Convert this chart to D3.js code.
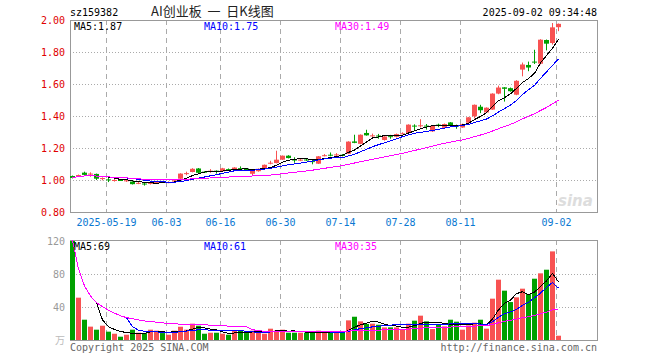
<!DOCTYPE html>
<html>
<head>
<meta charset="utf-8">
<script src="https://cdn.jsdelivr.net/npm/d3@7"></script>
<style>
  body { margin: 0; background: #fff; }
  text { font-family: "DejaVu Sans Mono", monospace; font-size: 10px; }
</style>
</head>
<body>
<div id="kline"></div>
<script>
// daily K data, 2025-05-09 .. 2025-09-02
const opens = [1.025,1.027,1.046,1.034,1.038,1.006,1.004,0.997,1.000,0.994,
  0.990,0.978,0.978,0.977,0.983,0.988,0.984,0.990,1.008,1.040,
  1.050,1.072,1.052,1.055,1.058,1.054,1.068,1.062,1.074,1.072,
  1.039,1.055,1.075,1.104,1.106,1.127,1.152,1.128,1.124,1.128,
  1.118,1.102,1.152,1.158,1.156,1.158,1.164,1.241,1.226,1.294,
  1.276,1.278,1.250,1.274,1.270,1.288,1.294,1.340,1.338,1.340,
  1.304,1.346,1.326,1.360,1.340,1.328,1.358,1.398,1.458,1.422,
  1.440,1.540,1.579,1.574,1.533,1.690,1.719,1.740,1.727,1.875,
  1.856,1.955];
const closes = [1.013,1.031,1.032,1.040,1.008,1.012,1.000,1.000,0.997,0.998,
  0.974,0.982,0.975,0.982,0.988,0.985,0.987,0.998,1.040,1.043,
  1.070,1.045,1.049,1.058,1.055,1.073,1.064,1.078,1.072,1.060,
  1.059,1.070,1.095,1.108,1.127,1.152,1.137,1.125,1.127,1.124,
  1.116,1.148,1.155,1.156,1.160,1.150,1.240,1.232,1.283,1.279,
  1.279,1.275,1.272,1.271,1.287,1.292,1.346,1.336,1.342,1.337,
  1.339,1.342,1.350,1.342,1.336,1.350,1.392,1.470,1.436,1.452,
  1.540,1.578,1.570,1.555,1.620,1.722,1.703,1.736,1.877,1.852,
  1.954,1.976];
const highs = [1.028,1.034,1.052,1.048,1.040,1.016,1.012,1.007,1.002,1.000,
  0.992,0.990,0.985,0.988,0.993,0.990,0.992,1.003,1.042,1.052,
  1.074,1.075,1.055,1.068,1.060,1.076,1.072,1.080,1.085,1.074,
  1.062,1.072,1.097,1.120,1.183,1.153,1.155,1.142,1.135,1.132,
  1.130,1.150,1.162,1.172,1.168,1.162,1.242,1.283,1.285,1.314,
  1.290,1.288,1.274,1.282,1.290,1.298,1.348,1.348,1.380,1.350,
  1.342,1.352,1.353,1.362,1.346,1.352,1.394,1.472,1.470,1.454,
  1.542,1.590,1.580,1.578,1.624,1.734,1.740,1.814,1.880,1.878,
  1.981,1.978];
const lows = [1.010,1.024,1.030,1.020,1.000,0.998,0.987,0.990,0.995,0.988,
  0.972,0.974,0.965,0.972,0.980,0.982,0.980,0.988,1.005,1.030,
  1.048,1.043,1.045,1.045,1.040,1.052,1.058,1.060,1.060,1.058,
  1.030,1.052,1.073,1.098,1.104,1.125,1.135,1.108,1.118,1.120,
  1.098,1.100,1.148,1.148,1.150,1.148,1.162,1.230,1.224,1.277,
  1.270,1.258,1.246,1.258,1.266,1.285,1.290,1.312,1.328,1.315,
  1.300,1.330,1.324,1.340,1.320,1.326,1.355,1.385,1.418,1.420,
  1.438,1.536,1.490,1.552,1.530,1.648,1.680,1.725,1.722,1.810,
  1.846,1.930];
// volume, 万
const volumes = [121,51.3,24.6,16.2,12.5,17.3,10.1,7.6,4.0,6.4,
  12.5,8.8,8.4,12.5,11.3,8.4,6.4,11.3,16.1,12.5,
  19.8,17.3,7.6,8.8,8.8,7.6,6.4,11.3,11.3,8.4,
  11.3,11.3,7.6,13.7,11.3,12.5,8.8,8.8,8.8,8.8,
  8.8,11.3,8.8,8.5,8.5,8.5,23.8,28.2,22.6,19.4,
  19.8,18.5,15.3,15.3,15.3,12.5,19.8,23.4,29.5,22.6,
  13.3,18.2,16.5,24.6,22.2,12.5,17.7,21,24.6,13.7,
  50.1,73.1,59.8,46,51.7,62.2,55.7,74.3,80.8,85.2,
  107.4,5.2];

const tickIdx = [6, 16, 25, 35, 45, 55, 65, 81];
const tickLabels = ["2025-05-19","06-03","06-16","06-30","07-14","07-28","08-11","09-02"];
const priceTicks = [0.8, 1.0, 1.2, 1.4, 1.6, 1.8, 2.0];
const volTicks = [40, 80, 120];
const priceMaText = ["MA5:1.87", "MA10:1.75", "MA30:1.49"];
const volMaText = ["MA5:69", "MA10:61", "MA30:35"];

const W = 660, H = 360;
const left = 70, right = 597;
const main = {top: 20, bottom: 212};
const vol = {top: 240, bottom: 340};
const RED = "#f85252", GREEN = "#00a000";
const maColors = ["#000000", "#0000ff", "#ff00ff"];

const svg = d3.select("#kline").append("svg")
  .attr("width", W).attr("height", H);

const n = closes.length;
const x = d3.scaleLinear().domain([0, 87]).range([left + 2.5, left + 2.5 + 6 * 87]);
const y = d3.scaleLinear().domain([0.8, 2.0]).range([main.bottom, main.top]);
const yv = d3.scaleLinear().domain([0, 120]).range([vol.bottom, vol.top + 1]);

const isUp = (i) => closes[i] >= opens[i];
const idx = d3.range(n);

// moving averages: MA5/MA10 start when enough days, MA30 uses what it has
function ma(arr, k, partial) {
  return arr.map((v, i) => {
    if (i < k - 1 && !partial) return null;
    const s = arr.slice(Math.max(0, i - k + 1), i + 1);
    return d3.mean(s);
  });
}

// ---- grids and frames ----
function frame(p, hTicks, scale) {
  svg.append("g").selectAll("line").data(hTicks).enter().append("line")
    .attr("x1", left).attr("x2", right)
    .attr("y1", d => Math.round(scale(d)) + 0.5).attr("y2", d => Math.round(scale(d)) + 0.5)
    .attr("stroke", "#aaa").attr("stroke-dasharray", "1,2");
  svg.append("g").selectAll("line").data(tickIdx).enter().append("line")
    .attr("x1", d => x(d) - 2).attr("x2", d => x(d) - 2)
    .attr("y1", p.top).attr("y2", p.bottom)
    .attr("stroke", "#aaa").attr("stroke-dasharray", "5,4");
  svg.append("rect")
    .attr("x", left + 0.5).attr("y", p.top + 0.5)
    .attr("width", right - left).attr("height", p.bottom - p.top)
    .attr("fill", "none").attr("stroke", "#999");
}
frame(main, priceTicks.filter(d => d > 0.8 && d < 2.0), y);
frame(vol, [40, 80], yv);

// watermark
svg.append("text").attr("x", 558).attr("y", 206)
  .style("font-family", "DejaVu Sans").style("font-size", "15px")
  .style("font-style", "italic").style("font-weight", "bold")
  .attr("fill", "#dddddd").text("sina");

// ---- candles ----
const candles = svg.append("g");
candles.selectAll("line").data(idx).enter().append("line")
  .attr("x1", i => x(i)).attr("x2", i => x(i))
  .attr("y1", i => y(highs[i])).attr("y2", i => y(lows[i]))
  .attr("stroke", i => isUp(i) ? RED : GREEN);
candles.selectAll("rect").data(idx).enter().append("rect")
  .attr("x", i => x(i) - 2.5).attr("width", 5)
  .attr("y", i => y(Math.max(opens[i], closes[i])))
  .attr("height", i => Math.max(1, Math.abs(y(opens[i]) - y(closes[i]))))
  .attr("fill", i => isUp(i) ? RED : GREEN);

// ---- volume bars ----
svg.append("g").selectAll("rect").data(idx).enter().append("rect")
  .attr("x", i => x(i) - 2.5).attr("width", 5)
  .attr("y", i => Math.max(vol.top + 1, yv(volumes[i])))
  .attr("height", i => vol.bottom - Math.max(vol.top + 1, yv(volumes[i])))
  .attr("fill", i => isUp(i) ? RED : GREEN);

// ---- MA lines ----
function maLines(arr, scale) {
  [5, 10, 30].forEach((k, j) => {
    const vals = ma(arr, k, k === 30);
    const line = d3.line()
      .defined(d => d != null)
      .x((d, i) => x(i))
      .y(d => scale(d));
    svg.append("path").datum(vals)
      .attr("d", line).attr("fill", "none")
      .attr("stroke", maColors[j]).attr("stroke-width", 1)
      .attr("shape-rendering", "crispEdges");
  });
}
maLines(closes, y);
maLines(volumes, yv);

// ---- axes text ----
svg.append("g").selectAll("text").data(priceTicks).enter().append("text")
  .attr("x", 65).attr("y", d => y(d) + 4)
  .attr("text-anchor", "end").attr("fill", "#e00000")
  .text(d => d.toFixed(2));
svg.append("g").selectAll("text").data(volTicks).enter().append("text")
  .attr("x", 65).attr("y", d => yv(d) + 4)
  .attr("text-anchor", "end").attr("fill", "#999")
  .text(d => d);
svg.append("text").attr("x", 65).attr("y", 344).attr("text-anchor", "end")
  .attr("fill", "#bbb").style("font-family", "Noto Sans CJK SC").text("万");
svg.append("g").selectAll("text").data(tickIdx).enter().append("text")
  .attr("x", d => x(d) - 2).attr("y", 226)
  .attr("text-anchor", "middle").attr("fill", "#0a78d2")
  .text((d, i) => tickLabels[i]);

// MA legends
const maX = [74, 204, 335];
svg.append("g").selectAll("text").data(priceMaText).enter().append("text")
  .attr("x", (d, i) => maX[i]).attr("y", 30)
  .attr("fill", (d, i) => maColors[i]).text(d => d);
svg.append("g").selectAll("text").data(volMaText).enter().append("text")
  .attr("x", (d, i) => maX[i]).attr("y", 250)
  .attr("fill", (d, i) => maColors[i]).text(d => d);

// titles
svg.append("text").attr("x", 70).attr("y", 16).attr("fill", "#000").text("sz159382");
svg.append("text").attr("x", 151).attr("y", 16)
  .style("font-family", "Noto Sans CJK SC").style("font-size", "13px")
  .attr("fill", "#222").attr("xml:space", "preserve")
  .style("white-space", "pre").text("AI创业板  一  日K线图");
svg.append("text").attr("x", 597).attr("y", 16).attr("text-anchor", "end")
  .attr("fill", "#000").text("2025-09-02 09:34:48");
svg.append("text").attr("x", 70).attr("y", 351).attr("fill", "#666")
  .text("Copyright 2025 SINA.COM");
svg.append("text").attr("x", 597).attr("y", 351).attr("text-anchor", "end")
  .attr("fill", "#666").text("http://finance.sina.com.cn");
</script>
</body>
</html>
